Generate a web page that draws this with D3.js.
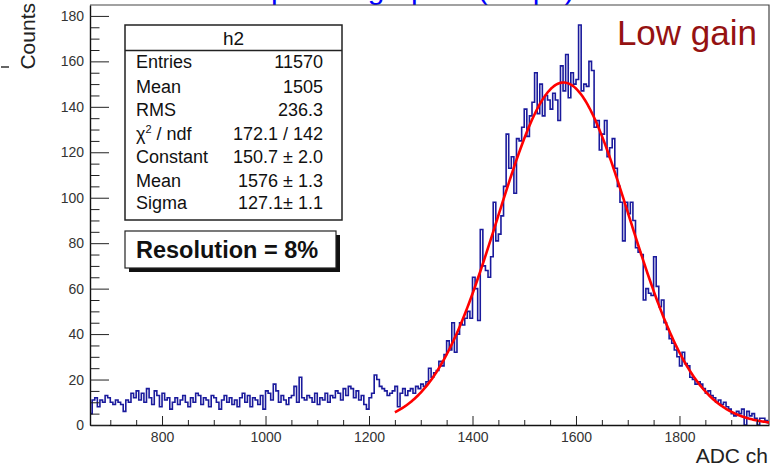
<!DOCTYPE html>
<html>
<head>
<meta charset="utf-8">
<script src="https://cdn.jsdelivr.net/npm/d3@7"></script>
<style>
  html, body { margin: 0; padding: 0; background: #fff; }
  svg { display: block; font-family: "Liberation Sans", Arial, Helvetica, sans-serif; }
</style>
</head>
<body>
<svg id="chart" width="776" height="468"></svg>
<script>
// ADC spectrum histogram h2: 5-channel bins starting at 660
const binLow = 660;
const binWidth = 5;
const counts = [
  // 660 - 755
  5, 11, 12, 8, 11, 10, 13, 12, 10, 9, 11, 10, 9, 6, 11, 10, 14, 12, 15, 11,
  // 760 - 855
  14, 10, 16, 12, 9, 15, 13, 8, 14, 11, 12, 7, 10, 12, 9, 11, 13, 10, 8, 12,
  // 860 - 955
  10, 14, 13, 9, 12, 11, 8, 13, 12, 10, 7, 11, 13, 10, 12, 9, 11, 8, 12, 14,
  // 960 - 1055
  10, 13, 8, 12, 11, 9, 13, 7, 15, 14, 11, 18, 15, 10, 13, 11, 9, 12, 13, 17,
  // 1060 - 1155
  10, 21, 12, 11, 13, 12, 10, 14, 9, 12, 11, 14, 10, 13, 12, 15, 14, 11, 16, 13,
  // 1160 - 1245
  17, 16, 12, 15, 11, 13, 9, 7, 12, 14, 22, 20, 17, 16, 15, 13, 14, 15,
  // 1250 - 1345
  17, 8, 14, 16, 13, 15, 16, 14, 17, 16, 18, 17, 19, 25, 21, 23, 24, 28, 26, 31,
  // 1350 - 1445
  37, 33, 45, 32, 40, 45, 44, 47, 50, 47, 65, 60, 46, 86, 70, 68, 65, 74, 98, 81,
  // 1450 - 1545
  84, 92, 105, 128, 113, 118, 102, 126, 125, 131, 139, 127, 136, 142, 155, 137, 150, 136, 145, 143,
  // 1550 - 1645
  139, 146, 143, 134, 158, 147, 163, 144, 155, 150, 152, 176, 147, 150, 149, 160, 156, 131, 134, 121,
  // 1650 - 1745
  128, 134, 118, 122, 126, 113, 105, 98, 81, 98, 93, 98, 90, 78, 76, 75, 55, 60, 58, 57,
  // 1750 - 1845
  74, 61, 52, 55, 45, 42, 38, 36, 33, 30, 26, 32, 27, 26, 21, 20, 18, 19, 18, 16,
  // 1850 - 1945
  14, 15, 13, 12, 10, 11, 9, 10, 8, 7, 5, 4, 6, 5, 7, 0, 6, 4, 5, 3,
  // 1950 - 1970
  0, 3, 3, 2, 1
];

// Gaussian fit results shown in the statistics box
const fitConstant = 150.7;
const fitMean = 1576;
const fitSigma = 127.1;
const fitRange = [1250, 1975];

// Statistics box rows
const statLabels = ["Entries", "Mean", "RMS", "chi2", "Constant", "Mean", "Sigma"];
const statValues = ["11570", "1505", "236.3", "172.1 / 142", "150.7 \u00b1 2.0", "1576 \u00b1 1.3", "127.1\u00b1 1.1"];

// Axis ticks
const xMajorTicks = [800, 1000, 1200, 1400, 1600, 1800];
const yMajorTicks = [0, 20, 40, 60, 80, 100, 120, 140, 160, 180];

const svg = d3.select("#chart");
const W = 776, H = 468;
const plot = { left: 90, right: 769, top: 5, bottom: 425 };

const x = d3.scaleLinear().domain([660.8, 1973]).range([plot.left, plot.right]);
const y = d3.scaleLinear().domain([0, 184.8]).range([plot.bottom, plot.top]);

svg.append("rect").attr("width", W).attr("height", H).attr("fill", "#fff");

// Title (mostly above the visible area)
svg.append("text")
  .attr("x", 226).attr("y", -1)
  .attr("font-size", 30).attr("fill", "#0000ff")
  .text("Amplitude graph 1 (Ampl.)");

// small mark at the left edge
svg.append("line").attr("x1", 1).attr("x2", 9).attr("y1", 67).attr("y2", 67)
  .attr("stroke", "#333").attr("stroke-width", 1.5);

// clip region for data
svg.append("clipPath").attr("id", "plotClip")
  .append("rect")
  .attr("x", plot.left).attr("y", plot.top)
  .attr("width", plot.right - plot.left).attr("height", plot.bottom - plot.top);

// Frame (top and right sides)
svg.append("path")
  .attr("d", `M${plot.left},${plot.top}H${plot.right}V${plot.bottom}`)
  .attr("fill", "none").attr("stroke", "#444").attr("stroke-width", 1.2);

// Histogram outline
const pts = counts.map((c, i) => [binLow + i * binWidth, c]);
pts.push([binLow + counts.length * binWidth, counts[counts.length - 1]]);
const histLine = d3.line()
  .x(d => x(d[0])).y(d => y(d[1]))
  .curve(d3.curveStepAfter);

svg.append("path")
  .datum(pts)
  .attr("clip-path", "url(#plotClip)")
  .attr("d", histLine)
  .attr("fill", "none")
  .attr("stroke", "#1a1a9c")
  .attr("stroke-width", 1.6)
  .attr("stroke-linejoin", "miter");

// Fitted gaussian
const fitPts = d3.range(fitRange[0], fitRange[1] + 0.1, 2.5).map(v => [v,
  fitConstant * Math.exp(-0.5 * Math.pow((v - fitMean) / fitSigma, 2))]);
svg.append("path")
  .datum(fitPts)
  .attr("clip-path", "url(#plotClip)")
  .attr("d", d3.line().x(d => x(d[0])).y(d => y(d[1])))
  .attr("fill", "none")
  .attr("stroke", "#ff0000")
  .attr("stroke-width", 2.6);

const tickFont = "'Liberation Sans', Arial, sans-serif";

// X axis: minor ticks then major ticks with labels
const xMinor = d3.range(700, 1973, 50).filter(v => !xMajorTicks.includes(v));
svg.append("g")
  .attr("transform", `translate(0,${plot.bottom})`)
  .call(d3.axisBottom(x).tickValues(xMinor).tickSize(-5).tickFormat(""))
  .call(g => g.select(".domain").remove())
  .call(g => g.selectAll("line").attr("stroke", "#222"));

svg.append("g")
  .attr("transform", `translate(0,${plot.bottom})`)
  .call(d3.axisBottom(x).tickValues(xMajorTicks).tickSize(-9).tickSizeOuter(0)
        .tickPadding(7).tickFormat(d3.format("d")))
  .call(g => g.select(".domain").attr("stroke", "#111").attr("stroke-width", 1.4))
  .call(g => g.selectAll("line").attr("stroke", "#222"))
  .call(g => g.selectAll("text").attr("font-size", 14).attr("fill", "#333")
        .attr("font-family", tickFont));

// Y axis
const yMinor = d3.range(0, 185, 5).filter(v => v % 20 !== 0);
svg.append("g")
  .attr("transform", `translate(${plot.left},0)`)
  .call(d3.axisLeft(y).tickValues(yMinor).tickSize(-9.5).tickFormat(""))
  .call(g => g.select(".domain").remove())
  .call(g => g.selectAll("line").attr("stroke", "#222"));

svg.append("g")
  .attr("transform", `translate(${plot.left},0)`)
  .call(d3.axisLeft(y).tickValues(yMajorTicks).tickSize(-19).tickSizeOuter(0)
        .tickPadding(6).tickFormat(d3.format("d")))
  .call(g => g.select(".domain").attr("stroke", "#111").attr("stroke-width", 1.4))
  .call(g => g.selectAll("line").attr("stroke", "#222"))
  .call(g => g.selectAll("text").attr("font-size", 14).attr("fill", "#333")
        .attr("font-family", tickFont));

// Axis titles
svg.append("text")
  .attr("x", 768).attr("y", 463)
  .attr("text-anchor", "end")
  .attr("font-size", 21).attr("fill", "#222")
  .text("ADC ch");

svg.append("text")
  .attr("transform", "translate(35,3) rotate(-90)")
  .attr("text-anchor", "end")
  .attr("font-size", 21).attr("fill", "#222")
  .text("Counts");

// "Low gain" label
svg.append("text")
  .attr("x", 757).attr("y", 45)
  .attr("text-anchor", "end")
  .attr("font-size", 35).attr("fill", "#951212")
  .text("Low gain");

// Statistics box
const box = { x: 125, y: 25, w: 217, h: 195 };
const stats = svg.append("g");
stats.append("rect")
  .attr("x", box.x).attr("y", box.y).attr("width", box.w).attr("height", box.h)
  .attr("fill", "#fff").attr("stroke", "#222").attr("stroke-width", 1.5);
stats.append("line")
  .attr("x1", box.x).attr("x2", box.x + box.w).attr("y1", 50.5).attr("y2", 50.5)
  .attr("stroke", "#222").attr("stroke-width", 1.3);
stats.append("text")
  .attr("x", box.x + box.w / 2).attr("y", 45)
  .attr("text-anchor", "middle").attr("font-size", 19).attr("fill", "#111")
  .text("h2");

const rowY = [68, 93, 116, 140, 163, 187, 209];
statLabels.forEach((lab, i) => {
  const t = stats.append("text")
    .attr("x", 136).attr("y", rowY[i])
    .attr("font-size", 18).attr("fill", "#111");
  if (lab === "chi2") {
    t.append("tspan").text("\u03c7");
    t.append("tspan").attr("font-size", 11).attr("dy", -7).text("2");
    t.append("tspan").attr("dy", 7).text(" / ndf");
  } else {
    t.text(lab);
  }
  stats.append("text")
    .attr("x", 323).attr("y", rowY[i])
    .attr("text-anchor", "end")
    .attr("font-size", 18).attr("fill", "#111")
    .text(statValues[i]);
});

// Resolution label with shadow
const res = { x: 125, y: 231, w: 211, h: 37 };
svg.append("rect")
  .attr("x", res.x + 4).attr("y", res.y + 4).attr("width", res.w).attr("height", res.h)
  .attr("fill", "#111");
svg.append("rect")
  .attr("x", res.x).attr("y", res.y).attr("width", res.w).attr("height", res.h)
  .attr("fill", "#fff").attr("stroke", "#222").attr("stroke-width", 1.2);
svg.append("text")
  .attr("x", res.x + 11).attr("y", res.y + 27)
  .attr("font-size", 23.5).attr("font-weight", "bold").attr("fill", "#111")
  .text("Resolution = 8%");
</script>
</body>
</html>
